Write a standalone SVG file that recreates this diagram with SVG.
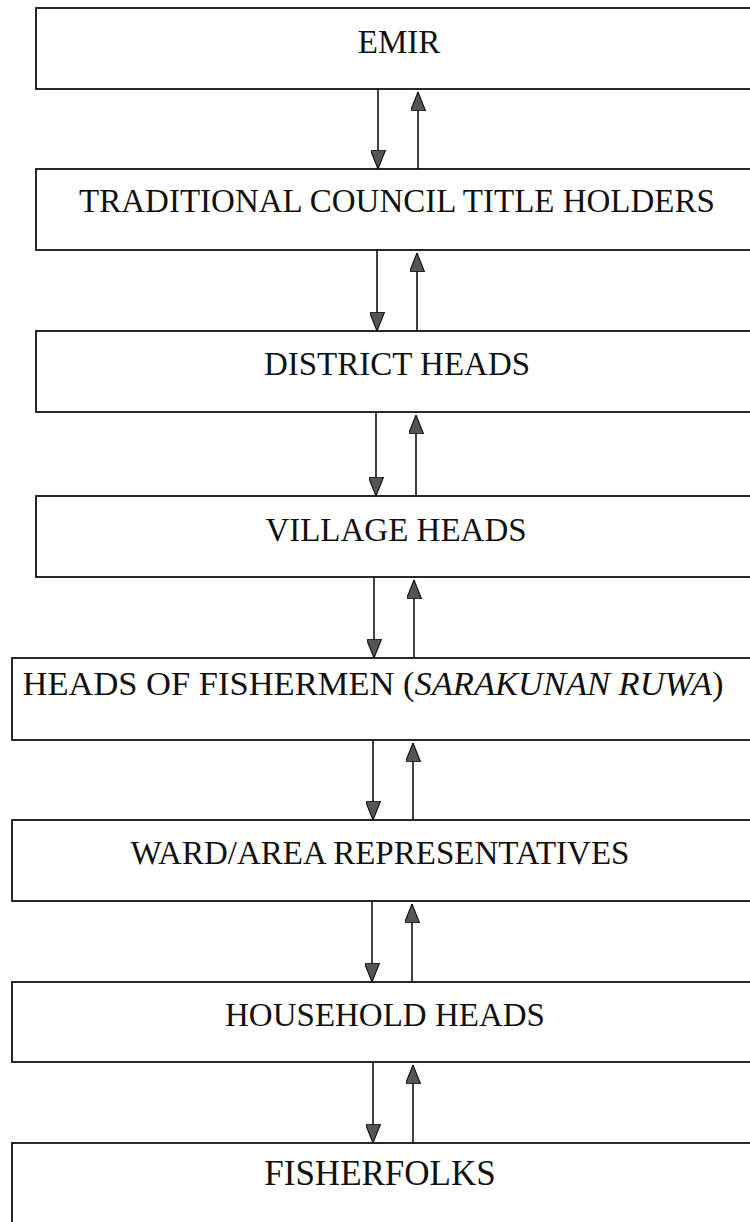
<svg xmlns="http://www.w3.org/2000/svg" width="750" height="1222" viewBox="0 0 750 1222">
<style>
.box{fill:#fff;stroke:#111;stroke-width:1.8}
.lbl{font-family:"Liberation Serif","Times New Roman",serif;font-size:33px;fill:#111;text-anchor:middle}
.con{stroke:#111;stroke-width:1.6;fill:none}
</style>
<defs>
<marker id="ah" viewBox="0 0 20 16" refX="20" refY="8" markerWidth="19" markerHeight="15" markerUnits="userSpaceOnUse" orient="auto">
<path d="M0,0 L20,8 L0,16 Z" fill="#555" stroke="#111" stroke-width="1.2"/>
</marker>
</defs>
<rect width="750" height="1222" fill="#fff"/>
<g id="n1"><rect class="box" x="36" y="8" width="740" height="81"/><text class="lbl" x="399" y="53">EMIR</text></g>
<g id="n2"><rect class="box" x="36" y="169" width="740" height="81"/><text class="lbl" x="397" y="212">TRADITIONAL COUNCIL TITLE HOLDERS</text></g>
<g id="n3"><rect class="box" x="36" y="331" width="740" height="81"/><text class="lbl" x="397" y="375">DISTRICT HEADS</text></g>
<g id="n4"><rect class="box" x="36" y="496" width="740" height="81"/><text class="lbl" x="396" y="541">VILLAGE HEADS</text></g>
<g id="n5"><rect class="box" x="12" y="658" width="760" height="82"/><text class="lbl" x="373" y="695" style="font-size:34.5px">HEADS OF FISHERMEN (<tspan font-style="italic">SARAKUNAN RUWA</tspan>)</text></g>
<g id="n6"><rect class="box" x="12" y="820" width="760" height="81"/><text class="lbl" x="380" y="864">WARD/AREA REPRESENTATIVES</text></g>
<g id="n7"><rect class="box" x="12" y="982" width="760" height="80"/><text class="lbl" x="385" y="1026">HOUSEHOLD HEADS</text></g>
<g id="n8"><rect class="box" x="12" y="1143" width="760" height="100"/><text class="lbl" x="380" y="1185" style="font-size:35px">FISHERFOLKS</text></g>
<g id="connectors" class="con">
<line x1="378" y1="89" x2="378" y2="169" marker-end="url(#ah)"/>
<line x1="418" y1="169" x2="418" y2="92" marker-end="url(#ah)"/>
<line x1="377" y1="250" x2="377" y2="331" marker-end="url(#ah)"/>
<line x1="417" y1="331" x2="417" y2="253" marker-end="url(#ah)"/>
<line x1="376" y1="412" x2="376" y2="496" marker-end="url(#ah)"/>
<line x1="416" y1="496" x2="416" y2="415" marker-end="url(#ah)"/>
<line x1="374" y1="577" x2="374" y2="658" marker-end="url(#ah)"/>
<line x1="414" y1="658" x2="414" y2="580" marker-end="url(#ah)"/>
<line x1="373" y1="740" x2="373" y2="820" marker-end="url(#ah)"/>
<line x1="413" y1="820" x2="413" y2="743" marker-end="url(#ah)"/>
<line x1="372" y1="901" x2="372" y2="982" marker-end="url(#ah)"/>
<line x1="412" y1="982" x2="412" y2="904" marker-end="url(#ah)"/>
<line x1="373" y1="1062" x2="373" y2="1143" marker-end="url(#ah)"/>
<line x1="413" y1="1143" x2="413" y2="1065" marker-end="url(#ah)"/>
</g>
</svg>
